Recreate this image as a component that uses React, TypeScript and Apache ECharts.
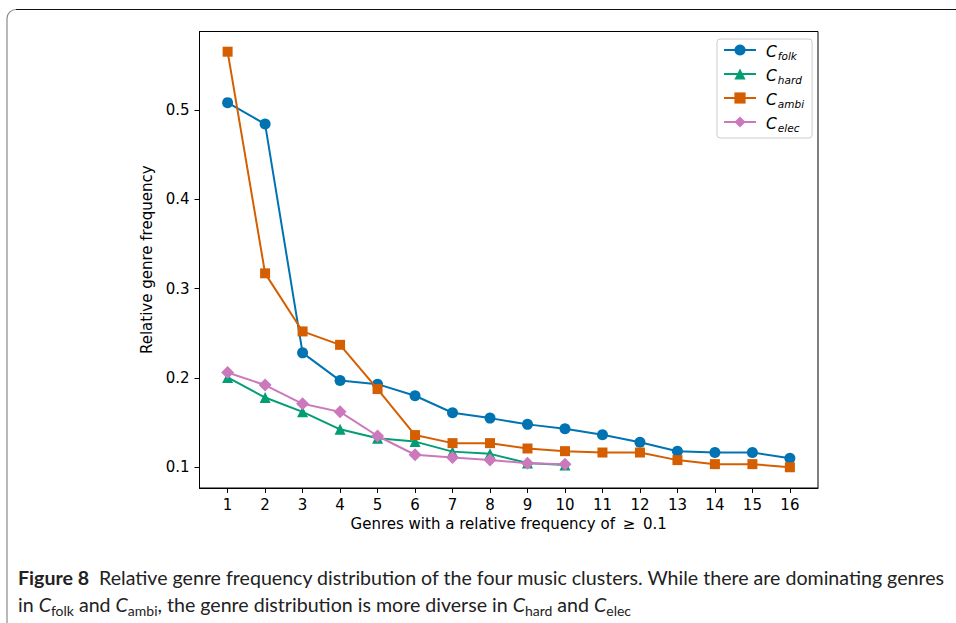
import { useEffect, useRef } from 'react';
import * as echarts from 'echarts';

const genreRanks = [1, 2, 3, 4, 5, 6, 7, 8, 9, 10, 11, 12, 13, 14, 15, 16];
const folkValues = [0.508, 0.484, 0.228, 0.197, 0.193, 0.18, 0.161, 0.155, 0.148, 0.143, 0.1365, 0.128, 0.118, 0.1165, 0.1165, 0.11];
const hardValues = [0.2005, 0.178, 0.162, 0.1425, 0.1325, 0.1287, 0.1175, 0.115, 0.1047, 0.1026];
const ambiValues = [0.565, 0.317, 0.252, 0.237, 0.1875, 0.136, 0.127, 0.127, 0.121, 0.118, 0.1165, 0.1165, 0.108, 0.1035, 0.1035, 0.1];
const elecValues = [0.206, 0.192, 0.171, 0.162, 0.135, 0.114, 0.111, 0.108, 0.1045, 0.1035];
const seriesLabels = ['folk', 'hard', 'ambi', 'elec'];
const xTickValues = [1, 2, 3, 4, 5, 6, 7, 8, 9, 10, 11, 12, 13, 14, 15, 16];
const yTickValues = [0.1, 0.2, 0.3, 0.4, 0.5];

const colors = ['#0173b2', '#029e73', '#d55e00', '#cc78bc'];
const symbols = ['circle', 'triangle', 'rect', 'diamond'];
const symbolSizes = [11, 11, 10, 13];
const allValues = [folkValues, hardValues, ambiValues, elecValues];

const tickFont = 'DejaVu Sans';

export default function App() {
  const ref = useRef<HTMLDivElement>(null);
  useEffect(() => {
    if (!ref.current) return;
    const chart = echarts.init(ref.current, null, { renderer: 'svg' });
    const series = allValues.map((vals, i) => ({
      name: seriesLabels[i],
      type: 'line',
      data: vals.map((v, j) => [genreRanks[j], v]),
      symbol: symbols[i],
      symbolSize: symbolSizes[i],
      showAllSymbol: true,
      lineStyle: { color: colors[i], width: 2 },
      itemStyle: { color: colors[i], borderWidth: 0 },
      emphasis: { disabled: true },
      z: 2 + i,
    }));
    const capFont = 'Lato';
    const capSize = 19.6;
    chart.setOption({
      animation: false,
      grid: {
        left: 199.5,
        top: 31.5,
        right: 956 - 818,
        bottom: 623 - 488,
        show: true,
        borderColor: '#000',
        borderWidth: 1,
        containLabel: false,
      },
      xAxis: {
        type: 'value',
        min: 0.25,
        max: 16.75,
        name: 'Genres with a relative frequency of \u2009\u2265\u2009 0.1',
        nameLocation: 'middle',
        nameGap: 28,
        nameTextStyle: { fontFamily: tickFont, fontSize: 15, color: '#000' },
        axisLine: { show: true, lineStyle: { color: '#000', width: 1 } },
        axisTick: { show: true, length: 5, lineStyle: { color: '#000' }, customValues: xTickValues },
        axisLabel: { customValues: xTickValues, fontFamily: tickFont, fontSize: 15, color: '#000', margin: 9 },
        splitLine: { show: false },
      },
      yAxis: {
        type: 'value',
        min: 0.0768,
        max: 0.5876,
        name: 'Relative genre frequency',
        nameLocation: 'middle',
        nameGap: 33,
        nameTextStyle: { fontFamily: tickFont, fontSize: 15, color: '#000' },
        axisLine: { show: true, lineStyle: { color: '#000', width: 1 } },
        axisTick: { show: true, length: 5, lineStyle: { color: '#000' }, customValues: yTickValues },
        axisLabel: {
          customValues: yTickValues,
          fontFamily: tickFont,
          fontSize: 15,
          color: '#000',
          margin: 10,
          formatter: (v: number) => v.toFixed(1),
        },
        splitLine: { show: false },
      },
      legend: {
        orient: 'vertical',
        left: 717,
        top: 39,
        padding: [5, 8, 5, 6],
        itemGap: 7,
        itemWidth: 32,
        itemHeight: 14,
        borderColor: '#cccccc',
        borderWidth: 1,
        borderRadius: 3,
        backgroundColor: '#fff',
        data: seriesLabels,
        formatter: (name: string) => `{c|C}{s|${name}}`,
        textStyle: {
          rich: {
            c: { fontFamily: tickFont, fontStyle: 'italic', fontSize: 15.5, color: '#000', lineHeight: 12, verticalAlign: 'top', padding: [0, 1, 0, 5] },
            s: { fontFamily: tickFont, fontStyle: 'italic', fontSize: 10.5, color: '#000', verticalAlign: 'top', lineHeight: 10, padding: [6, 0, 0, 0] },
          },
        },
      },
      graphic: [
        {
          type: 'rect',
          shape: { x: 7, y: 9.5, width: 1200, height: 900, r: 9 },
          style: { fill: 'none', stroke: '#8a8a8a', lineWidth: 1.2 },
          silent: true,
        },
        {
          type: 'line',
          shape: { x1: 16, y1: 9.5, x2: 956, y2: 9.5 },
          style: { stroke: '#111', lineWidth: 1.2 },
          silent: true,
        },
        {
          type: 'text',
          x: 18,
          y: 577,
          style: {
            text: '{b|Figure 8}  Relative genre frequency distribution of the four music clusters. While there are dominating genres',
            fontFamily: capFont,
            fontSize: capSize,
            fill: '#222',
            verticalAlign: 'middle',
            rich: { b: { fontFamily: capFont, fontSize: capSize, fontWeight: 'bold', fill: '#222' } },
          },
          silent: true,
        },
        {
          type: 'text',
          x: 18,
          y: 604,
          style: {
            text: 'in {c|C}{s|folk} and {c|C}{s|ambi}, the genre distribution is more diverse in {c|C}{s|hard} and {c|C}{s|elec}',
            fontFamily: capFont,
            fontSize: capSize,
            lineHeight: 26,
            fill: '#222',
            verticalAlign: 'middle',
            rich: {
              c: { fontFamily: capFont, fontSize: capSize, fontStyle: 'italic', fill: '#222', lineHeight: 26 },
              s: { fontFamily: capFont, fontSize: 14, fill: '#222', verticalAlign: 'bottom', lineHeight: 14 },
            },
          },
          silent: true,
        },
      ],
      series,
    });
    return () => chart.dispose();
  }, []);
  return <div ref={ref} style={{ position: 'absolute', left: 0, top: 0, width: 956, height: 623 }} />;
}
